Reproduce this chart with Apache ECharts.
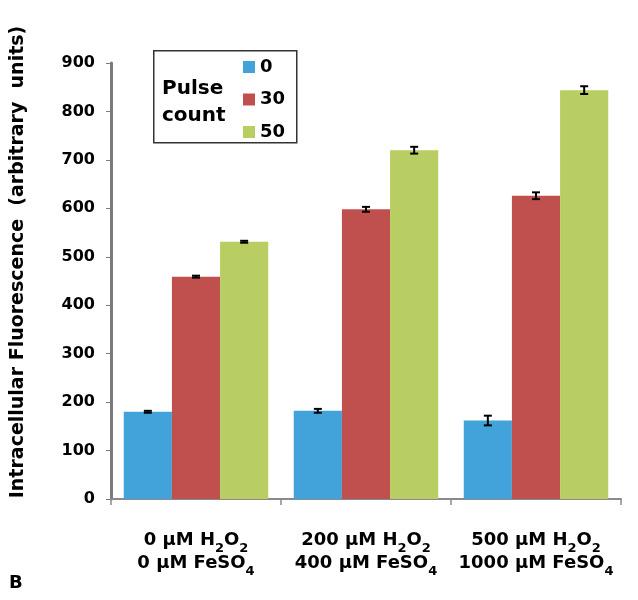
<!DOCTYPE html>
<html>
<head>
<meta charset="utf-8">
<script src="https://cdn.jsdelivr.net/npm/echarts@6/dist/echarts.min.js"></script>
<style>
  html, body { margin: 0; padding: 0; background: #fff; }
  #chart { width: 638px; height: 600px; }
</style>
</head>
<body>
<div id="chart"></div>
<script>
let categories = [
    "0 μM H{sub|2}O{sub|2}\n0 μM FeSO{sub|4}",
    "200 μM H{sub|2}O{sub|2}\n400 μM FeSO{sub|4}",
    "500 μM H{sub|2}O{sub|2}\n1000 μM FeSO{sub|4}"
];
let seriesNames = ["0", "30", "50"];
let pulse0 = [180, 182, 162];
let pulse30 = [459, 598, 626];
let pulse50 = [531, 720, 844];
let err0 = [2, 4, 10];
let err30 = [2, 5, 7];
let err50 = [2, 7, 8];
let colors = ["#42A2DA", "#C0504D", "#B8CD62"];
let yTicks = { min: 0, max: 900, interval: 100 };

let values = [pulse0, pulse30, pulse50];
let errors = [err0, err30, err50];
let catGap = 0.15;

document.addEventListener("DOMContentLoaded", function () {
    let chart = echarts.init(document.getElementById("chart"));
    let font = "DejaVu Sans, sans-serif";

    function errorSeries(idx) {
        return {
            type: "custom",
            name: seriesNames[idx] + " err",
            z: 10,
            data: values[idx].map((v, i) => [i, v, errors[idx][i]]),
            renderItem: function (params, api) {
                let x = api.value(0);
                let v = api.value(1);
                let e = api.value(2);
                let band = api.size([1, 0])[0];
                let bw = band * (1 - catGap) / 3;
                let cx = api.coord([x, v])[0] + (idx - 1) * bw;
                let hi = api.coord([x, v + e])[1];
                let lo = api.coord([x, v - e])[1];
                let cap = 4;
                let style = { stroke: "#000", lineWidth: 2 };
                return {
                    type: "group",
                    children: [
                        { type: "line", shape: { x1: cx, y1: hi, x2: cx, y2: lo }, style: style },
                        { type: "line", shape: { x1: cx - cap, y1: hi, x2: cx + cap, y2: hi }, style: style },
                        { type: "line", shape: { x1: cx - cap, y1: lo, x2: cx + cap, y2: lo }, style: style }
                    ]
                };
            }
        };
    }

    let option = {
        animation: false,
        color: colors,
        textStyle: { fontFamily: font },
        grid: { left: 111, right: 17, top: 63, bottom: 101 },
        legend: {
            data: seriesNames,
            orient: "vertical",
            left: 238,
            top: 53,
            itemWidth: 12,
            itemHeight: 12,
            itemGap: 14.5,
            icon: "rect",
            textStyle: { fontSize: 18, fontWeight: "bold", color: "#000", fontFamily: font }
        },
        graphic: [
            {
                type: "rect",
                left: 153,
                top: 50,
                shape: { width: 143, height: 92 },
                style: { fill: "#fff", stroke: "#333", lineWidth: 1.5 },
                z: 0
            },
            {
                type: "text",
                left: 162,
                top: 75,
                style: {
                    text: "Pulse\ncount",
                    font: "bold 20px " + font,
                    lineHeight: 27,
                    fill: "#000"
                },
                z: 1
            },
            {
                type: "text",
                x: 18,
                y: 262,
                rotation: Math.PI / 2,
                style: {
                    text: "Intracellular Fluorescence  (arbitrary  units)",
                    font: "bold 19px " + font,
                    fill: "#000",
                    align: "center",
                    verticalAlign: "middle"
                }
            },
            {
                type: "text",
                left: 9,
                top: 574,
                style: { text: "B", font: "bold 18px " + font, fill: "#000" }
            }
        ],
        xAxis: {
            type: "category",
            data: categories,
            axisLine: { lineStyle: { color: "#8a8a8a", width: 2 } },
            axisTick: { show: true, length: 6, lineStyle: { color: "#8a8a8a", width: 1.5 } },
            axisLabel: {
                interval: 0,
                margin: 30,
                color: "#000",
                fontSize: 18,
                fontWeight: "bold",
                lineHeight: 23,
                rich: {
                    sub: { fontSize: 13, fontWeight: "bold", verticalAlign: "bottom", lineHeight: 23, padding: [0, 0, -3, 0] }
                }
            }
        },
        yAxis: {
            type: "value",
            min: yTicks.min,
            max: yTicks.max,
            interval: yTicks.interval,
            splitLine: { show: false },
            axisLine: { show: true, lineStyle: { color: "#7a7a7a", width: 3 } },
            axisTick: { show: true, length: 5, lineStyle: { color: "#7a7a7a" } },
            axisLabel: { margin: 16, color: "#000", fontSize: 16, fontWeight: "bold" }
        },
        series: [0, 1, 2].map(i => ({
            name: seriesNames[i],
            type: "bar",
            data: values[i],
            barGap: "0%",
            barCategoryGap: (catGap * 100) + "%",
            itemStyle: { color: colors[i] }
        })).concat([0, 1, 2].map(errorSeries))
    };
    chart.setOption(option);
});
</script>
</body>
</html>
